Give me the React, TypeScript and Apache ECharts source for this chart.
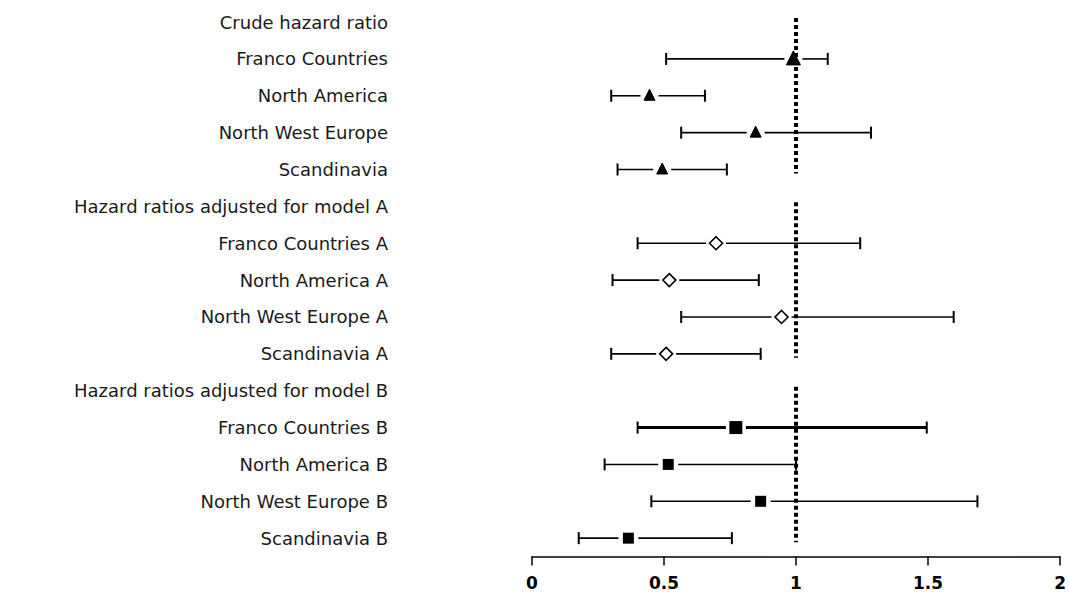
import React, { useEffect, useRef } from "react";
import * as echarts from "echarts";

const categories = [
  "Crude hazard ratio",
  "Franco Countries",
  "North America",
  "North West Europe",
  "Scandinavia",
  "Hazard ratios adjusted for model A",
  "Franco Countries A",
  "North America A",
  "North West Europe A",
  "Scandinavia A",
  "Hazard ratios adjusted for model B",
  "Franco Countries B",
  "North America B",
  "North West Europe B",
  "Scandinavia B",
];

const estimates = [null, 0.99, 0.445, 0.847, 0.493, null, 0.697, 0.52, 0.945, 0.508, null, 0.772, 0.516, 0.866, 0.365];
const lowerCI = [null, 0.508, 0.3, 0.565, 0.324, null, 0.4, 0.305, 0.565, 0.3, null, 0.4, 0.275, 0.452, 0.177];
const upperCI = [null, 1.12, 0.655, 1.284, 0.738, null, 1.243, 0.859, 1.597, 0.866, null, 1.495, 1.0, 1.687, 0.757];
const markerTypes = ["", "triangle", "triangle", "triangle", "triangle", "", "diamond", "diamond", "diamond", "diamond", "", "square", "square", "square", "square"];

const referenceValue = 1;
const groupHeaders = ["Crude hazard ratio", "Hazard ratios adjusted for model A", "Hazard ratios adjusted for model B"];
const groupLastRows = ["Scandinavia", "Scandinavia A", "Scandinavia B"];
const emphasisRow = "Franco Countries B";

const xTicks = { min: 0, max: 2, interval: 0.5 };

type Row = { lo: number; est: number; hi: number; idx: number; marker: string; name: string };
const rows: Row[] = [];
categories.forEach((name, i) => {
  if (estimates[i] != null) {
    rows.push({ lo: lowerCI[i] as number, est: estimates[i] as number, hi: upperCI[i] as number, idx: i, marker: markerTypes[i], name });
  }
});

const refSegments = groupHeaders.map((h, g) => [referenceValue, categories.indexOf(h), categories.indexOf(groupLastRows[g])]);

export default function App() {
  const ref = useRef<HTMLDivElement>(null);
  useEffect(() => {
    if (!ref.current) return;
    const chart = echarts.init(ref.current, undefined, { renderer: "svg" });
    const black = "#000";
    const option: any = {
      animation: false,
      backgroundColor: "#fff",
      grid: { left: 532, right: 6, top: 3.6, bottom: 44.4, containLabel: false },
      xAxis: {
        type: "value",
        min: xTicks.min,
        max: xTicks.max,
        interval: xTicks.interval,
        splitLine: { show: false },
        axisLine: { show: true, lineStyle: { color: black, width: 1.5 } },
        axisTick: { show: true, length: 9, lineStyle: { color: black, width: 1.5 } },
        axisLabel: {
          color: black,
          fontFamily: "DejaVu Sans",
          fontSize: 17,
          fontWeight: "bold",
          margin: 18,
        },
      },
      yAxis: {
        type: "category",
        data: categories,
        inverse: true,
        axisLine: { show: false },
        axisTick: { show: false },
        splitLine: { show: false },
        axisLabel: {
          color: "#1a1a1a",
          fontFamily: "DejaVu Sans",
          fontSize: 18,
          margin: 144,
        },
      },
      series: [
        {
          type: "custom",
          z: 1,
          data: refSegments,
          encode: { x: 0, y: [1, 2] },
          renderItem: (params: any, api: any) => {
            const a = api.coord([api.value(0), api.value(1)]);
            const b = api.coord([api.value(0), api.value(2)]);
            return {
              type: "line",
              shape: { x1: a[0], y1: a[1] - 4, x2: b[0], y2: b[1] + 4 },
              style: { stroke: black, lineWidth: 4, lineDash: [4, 3] },
            };
          },
        },
        {
          type: "custom",
          z: 2,
          data: rows.map((r) => [r.lo, r.est, r.hi, r.idx]),
          encode: { x: [0, 1, 2], y: 3 },
          renderItem: (params: any, api: any) => {
            const r = rows[params.dataIndex];
            const lo = api.coord([api.value(0), api.value(3)]);
            const est = api.coord([api.value(1), api.value(3)]);
            const hi = api.coord([api.value(2), api.value(3)]);
            const y = est[1];
            const heavy = r.name === emphasisRow;
            const lw = heavy ? 3 : 1.6;
            const gap = r.marker === "triangle" ? 9 : 10;
            const capH = 6;
            const children: any[] = [];
            if (est[0] - gap > lo[0]) {
              children.push({ type: "line", shape: { x1: lo[0], y1: y, x2: est[0] - gap, y2: y }, style: { stroke: black, lineWidth: lw } });
            }
            if (hi[0] > est[0] + gap) {
              children.push({ type: "line", shape: { x1: est[0] + gap, y1: y, x2: hi[0], y2: y }, style: { stroke: black, lineWidth: lw } });
            }
            children.push({ type: "line", shape: { x1: lo[0], y1: y - capH, x2: lo[0], y2: y + capH }, style: { stroke: black, lineWidth: 2 } });
            children.push({ type: "line", shape: { x1: hi[0], y1: y - capH, x2: hi[0], y2: y + capH }, style: { stroke: black, lineWidth: 2 } });
            const cx = est[0];
            if (r.marker === "triangle") {
              const s = r.est > 0.95 ? 7 : 5.5;
              children.push({
                type: "polygon",
                shape: { points: [[cx, y - s - 1], [cx - s, y + s - 1], [cx + s, y + s - 1]] },
                style: { fill: black, stroke: black, lineWidth: 1 },
              });
            } else if (r.marker === "diamond") {
              const s = 6.5;
              children.push({
                type: "polygon",
                shape: { points: [[cx, y - s], [cx + s, y], [cx, y + s], [cx - s, y]] },
                style: { fill: "#fff", stroke: black, lineWidth: 1.6 },
              });
            } else if (r.marker === "square") {
              const s = heavy ? 6.5 : 5.5;
              children.push({
                type: "rect",
                shape: { x: cx - s, y: y - s, width: 2 * s, height: 2 * s },
                style: { fill: black },
              });
            }
            return { type: "group", children };
          },
        },
      ],
    };
    chart.setOption(option);
    return () => chart.dispose();
  }, []);
  return (
    <div
      ref={ref}
      style={{ position: "absolute", left: 0, top: 0, width: 1069, height: 601, background: "#fff" }}
    />
  );
}
